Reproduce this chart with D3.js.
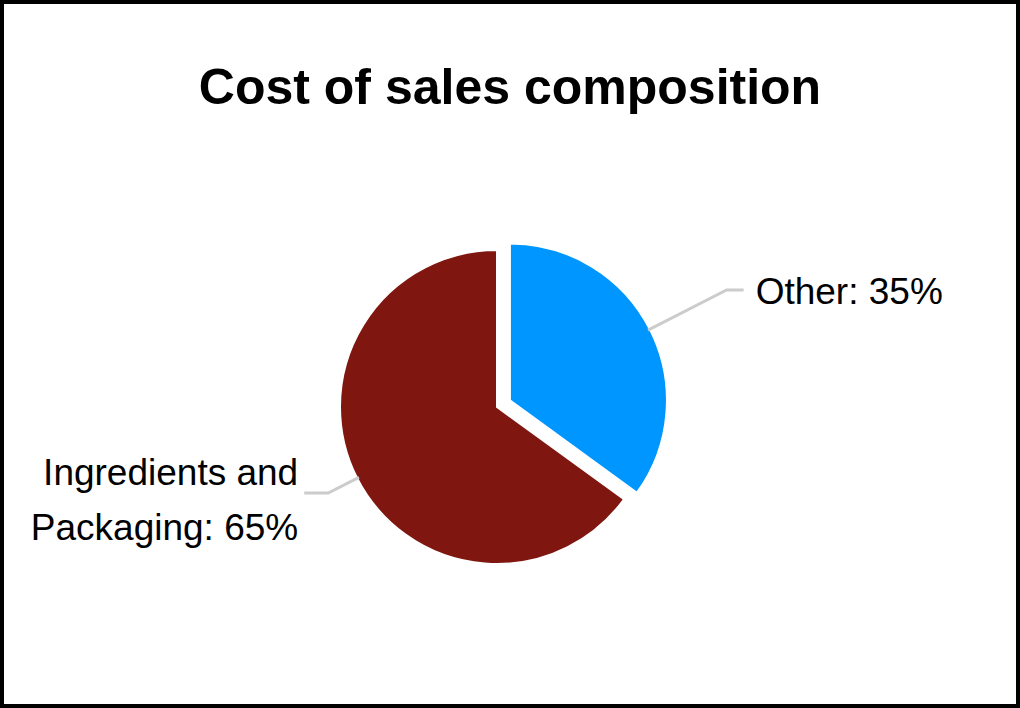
<!DOCTYPE html>
<html>
<head>
<meta charset="utf-8">
<script src="https://cdn.jsdelivr.net/npm/d3@7"></script>
<style>
  html, body { margin: 0; padding: 0; background: #fff; }
  #container { width: 1020px; height: 708px; }
  text { font-family: 'Liberation Sans', Arial, sans-serif; }
</style>
</head>
<body>
<div id="container"></div>
<script>
// DATA
const categories = ['Other', 'Ingredients and Packaging']
const labelLines = [['Other: 35%'], ['Ingredients and', 'Packaging: 65%']]
const shares = [35, 65]
const colors = ['#0096ff', '#7f1710']

const w = 1020
const h = 708
const cx = 497
const cy = 407
const r = 157
const explode = [14.5, 0]      // offset of each slice along its mid angle
const labelY = [290, 493]      // y of the horizontal part of the leader
const leaderLen = [17, 24]

const svg = d3.select('#container')
  .append('svg')
  .attr('width', w)
  .attr('height', h)

//BORDER
svg.append('rect')
  .attr('x', 2)
  .attr('y', 2)
  .attr('width', w - 4)
  .attr('height', h - 4)
  .attr('fill', '#fff')
  .attr('stroke', '#000')
  .attr('stroke-width', 4)

//TITLE
svg.append('text')
  .attr('x', w / 2)
  .attr('y', 104)
  .attr('text-anchor', 'middle')
  .attr('font-size', 50)
  .attr('font-weight', 'bold')
  .attr('fill', '#000')
  .text('Cost of sales composition')

const pie = d3.pie().sort(null).value(d => d)
const arcs = pie(shares)
const arc = d3.arc().innerRadius(0).outerRadius(r)

const mid = d => (d.startAngle + d.endAngle) / 2
const dir = d => [Math.sin(mid(d)), -Math.cos(mid(d))]

const g = svg.append('g')
  .attr('transform', `translate(${cx},${cy})`)

//SLICES
g.selectAll('path.slice')
  .data(arcs)
  .enter()
  .append('path')
  .attr('class', 'slice')
  .attr('d', arc)
  .attr('transform', (d, i) => {
    const [dx, dy] = dir(d)
    return `translate(${dx * explode[i]},${dy * explode[i]})`
  })
  .attr('fill', (d, i) => colors[i])
  .attr('stroke', '#fff')
  .attr('stroke-width', 2)

//LEADERS + LABELS
arcs.forEach((d, i) => {
  const [dx, dy] = dir(d)
  const ox = cx + dx * explode[i]
  const oy = cy + dy * explode[i]
  const p0 = [ox + dx * (r - 2), oy + dy * (r - 2)]
  const k = (labelY[i] - p0[1]) / dy
  const p1 = [p0[0] + dx * k, labelY[i]]
  const right = dx > 0
  const p2 = [p1[0] + (right ? leaderLen[i] : -leaderLen[i]), labelY[i]]

  svg.append('polyline')
    .attr('points', [p0, p1, p2].map(p => p.join(',')).join(' '))
    .attr('fill', 'none')
    .attr('stroke', '#cccccc')
    .attr('stroke-width', 3)

  const lines = labelLines[i]
  const tx = p2[0] + (right ? 12 : -6)
  const first = lines.length === 1 ? labelY[i] + 14 : labelY[i] - 8
  const t = svg.append('text')
    .attr('x', tx)
    .attr('y', first)
    .attr('text-anchor', right ? 'start' : 'end')
    .attr('font-size', 37)
    .attr('fill', '#000')
  lines.forEach((line, j) => {
    t.append('tspan')
      .attr('x', tx)
      .attr('dy', j === 0 ? 0 : 55)
      .text(line)
  })
})
</script>
</body>
</html>
